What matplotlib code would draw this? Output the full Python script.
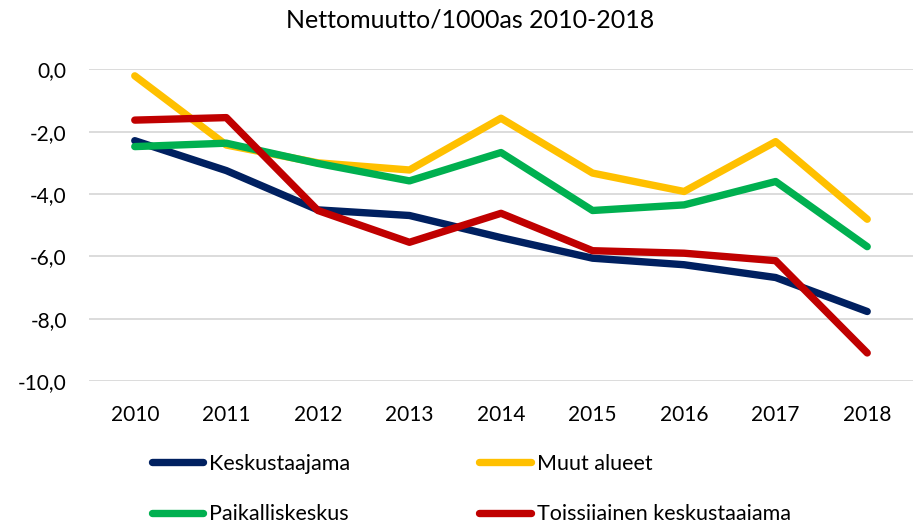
import matplotlib
matplotlib.use("Agg")
import matplotlib.pyplot as plt
from matplotlib.ticker import FuncFormatter

years = ["2010", "2011", "2012", "2013", "2014", "2015", "2016", "2017", "2018"]
keskustaajama = [-2.29, -3.25, -4.51, -4.69, -5.40, -6.06, -6.27, -6.68, -7.77]
muut_alueet = [-0.21, -2.43, -3.00, -3.23, -1.57, -3.33, -3.92, -2.32, -4.81]
paikalliskeskus = [-2.48, -2.37, -3.02, -3.58, -2.67, -4.53, -4.35, -3.60, -5.69]
toissijainen = [-1.63, -1.55, -4.53, -5.55, -4.62, -5.82, -5.90, -6.14, -9.10]

plt.rcParams['font.family'] = ['Lato', 'DejaVu Sans']

fig = plt.figure(figsize=(9.16, 5.2), dpi=100)
ax = fig.add_axes([89/916, 1-381/520, (913-89)/916, (381-69.3)/520])

x = list(range(len(years)))
lw = 5.3
kw = dict(lw=lw, solid_capstyle="round", solid_joinstyle="round")
l1, = ax.plot(x, keskustaajama, color="#002060", label="Keskustaajama", zorder=3, **kw)
l2, = ax.plot(x, muut_alueet, color="#FFC000", label="Muut alueet", zorder=4, **kw)
l3, = ax.plot(x, paikalliskeskus, color="#00B050", label="Paikalliskeskus", zorder=5, **kw)
l4, = ax.plot(x, toissijainen, color="#C00000", label="Toissijainen keskustaajama", zorder=6, **kw)

ax.set_xlim(-0.5, len(years) - 0.5)
ax.set_ylim(-10, 0)
ax.set_yticks([0, -2, -4, -6, -8, -10])
ax.yaxis.set_major_formatter(FuncFormatter(lambda v, p: f"{v:.1f}".replace(".", ",").replace("-0,0", "0,0")))
ax.set_xticks(x)
ax.set_xticklabels(years)
ax.grid(axis="y", color="#d9d9d9", lw=1.3, zorder=0)
ax.set_axisbelow(True)
for s in ax.spines.values():
    s.set_visible(False)
ax.tick_params(axis="both", length=0, labelsize=15, colors="black")
ax.tick_params(axis="y", pad=16)
ax.tick_params(axis="x", pad=17)
for l in (l1, l2, l3, l4):
    l.set_clip_on(False)

fig.text(470/916, 1-20/520, "Nettomuutto/1000as 2010-2018", ha="center", va="center", fontsize=18)

fig.legend(handles=[l1, l3, l2, l4], ncol=2, loc="upper left",
           bbox_to_anchor=(151.7/916, 1-454/520), bbox_transform=fig.transFigure,
           frameon=False, fontsize=15.5, handlelength=2.4, handletextpad=0.26,
           columnspacing=6.0, labelspacing=1.4, borderpad=0, borderaxespad=0)

fig.savefig("out.png", dpi=100)
